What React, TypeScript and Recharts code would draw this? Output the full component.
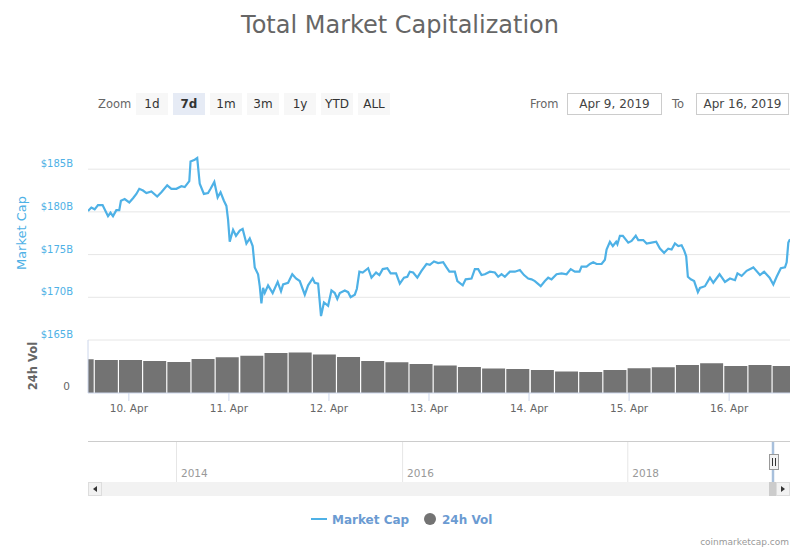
import React from 'react';
import { LineChart, Line, XAxis, YAxis, ReferenceLine, BarChart, Bar } from 'recharts';

const FONT = '"DejaVu Sans", Verdana, sans-serif';
const CAP_COLOR = '#4eb1e6';
const VOL_COLOR = '#737373';
const LEGEND_COLOR = '#6b9bd2';

// hours since Apr 9, 2019 00:00
const capHours = [14.2,15.0,15.8,16.6,17.7,18.6,19.0,19.6,20.2,21.0,21.7,22.1,23.0,24.1,25.0,25.8,26.5,27.4,28.2,29.4,30.8,31.8,33.2,34.2,35.4,36.6,37.4,38.5,38.8,39.8,40.4,41.0,42.0,43.0,43.6,44.5,45.3,46.0,46.8,47.4,47.8,48.2,49.0,49.7,50.6,51.3,52.2,53.0,53.7,54.2,55.0,55.4,55.8,56.2,56.6,57.4,58.5,59.7,60.5,61.0,62.2,63.2,64.1,65.0,66.2,67.0,68.1,68.6,69.4,70.1,70.8,71.8,72.6,73.4,74.0,74.6,75.8,76.6,77.2,78.2,78.7,79.3,80.1,81.4,82.2,83.3,84.1,84.9,86.0,86.8,88.1,89.0,90.0,90.8,91.4,92.2,93.2,94.2,95.4,96.2,97.2,98.2,99.4,100.2,100.9,102.2,102.8,104.1,104.8,106.2,107.0,107.8,108.6,109.4,110.6,111.8,112.6,113.4,114.2,115.4,116.6,117.8,118.8,119.8,120.6,121.4,122.8,123.8,124.6,125.4,126.6,127.8,129.0,130.0,131.0,132.1,132.6,133.8,134.6,135.4,136.2,137.4,138.2,138.6,139.4,140.1,140.9,141.2,141.8,142.5,143.8,144.6,145.6,146.2,147.4,148.2,149.4,150.5,151.4,152.4,153.4,154.2,155.0,155.8,156.6,157.2,157.7,158.1,158.8,159.6,160.5,161.0,162.2,163.4,164.2,165.7,167.0,168.2,169.4,170.0,171.0,172.2,173.8,175.4,176.4,177.7,178.6,179.4,180.4,181.4,181.8,182.2,182.6];

// market cap, $B
const capValues = [180.1,180.5,180.3,180.8,180.8,179.9,179.5,179.9,179.5,180.2,180.2,181.3,181.5,181.1,181.6,182.1,182.7,182.5,182.2,182.4,181.8,182.3,183.1,182.7,182.7,183.0,182.9,183.6,185.9,186.1,186.3,183.3,182.1,182.2,182.7,183.5,181.7,182.3,181.3,180.7,179.1,176.5,177.9,177.2,177.8,178.0,176.3,176.9,176.0,173.5,172.7,171.3,169.3,171.1,170.5,171.4,170.5,171.8,170.7,171.5,171.7,172.7,172.2,171.9,170.3,171.4,172.2,171.7,171.6,167.8,169.4,169.0,170.8,170.5,169.8,170.5,170.8,170.6,170.0,170.3,171.0,173.0,172.9,173.4,172.3,172.9,172.6,173.3,173.4,172.8,172.8,171.6,172.3,172.4,173.0,172.9,172.3,173.1,173.9,173.8,174.2,174.0,174.1,173.5,173.0,173.0,171.9,171.4,172.1,172.2,173.3,173.3,172.6,172.7,173.0,172.9,172.4,172.7,172.4,173.0,173.0,173.2,172.6,172.2,172.1,171.9,171.3,171.9,172.3,172.1,172.7,172.8,172.7,173.3,173.0,173.0,173.6,173.6,173.9,174.1,173.9,173.9,174.4,175.6,176.5,176.0,176.5,176.2,177.2,177.2,176.4,176.6,177.2,176.7,176.7,176.3,176.4,176.5,175.7,175.2,175.7,175.6,176.3,176.0,176.1,175.5,174.8,172.4,172.1,171.9,170.6,171.1,171.3,172.3,171.7,172.7,171.8,172.2,172.0,172.8,172.5,173.1,173.5,172.6,173.0,172.3,171.5,172.4,173.4,173.5,174.1,176.4,176.8];

// 24h volume, grouped bars
const volHours = [12.7,18.5,24.3,30.1,35.9,41.7,47.5,53.4,59.2,65.0,70.8,76.6,82.4,88.2,94.0,99.8,105.6,111.4,117.2,123.1,128.9,134.7,140.5,146.3,152.1,157.9,163.7,169.5,175.3,181.1];
const volValues = [44.5,43.6,43.6,42.3,40.9,44.9,47.2,49.3,52.8,53.5,50.9,47.5,42.3,40.5,38.3,36.3,34.3,32.4,31.7,30.4,28.4,27.7,30.4,32.6,33.9,37.0,39.2,35.7,37.0,35.7];

const dayTicks = [24, 48, 72, 96, 120, 144, 168];
const dayLabels = ['10. Apr', '11. Apr', '12. Apr', '13. Apr', '14. Apr', '15. Apr', '16. Apr'];
const capTicks = [165, 170, 175, 180, 185];
const capDomain = [165, 189];
const volDomain = [0, 70];
const volTicks = [0];
const timeDomain = [14.2, 182.6];

const zoomButtons = ['1d', '7d', '1m', '3m', '1y', 'YTD', 'ALL'];
const selectedButton = '7d';
const fromDate = 'Apr 9, 2019';
const toDate = 'Apr 16, 2019';
const navigatorYears = ['2014', '2016', '2018'];
const navigatorYearX = [176.5, 402.6, 627.8];

const capData = capHours.map((t, i) => ({ t, cap: capValues[i] }));
const volData = volHours.map((t, i) => ({ t, vol: volValues[i] }));

const CapTick = (props: any) => {
  const { y, payload } = props;
  return (
    <text x={73} y={y - 2} textAnchor="end" fill={CAP_COLOR} fontSize={10} fontFamily={FONT}>
      {`$${payload.value}B`}
    </text>
  );
};

const VolTick = (props: any) => {
  const { y, payload } = props;
  return (
    <text x={70} y={y - 3} textAnchor="end" fill="#666" fontSize={10.5} fontFamily={FONT}>
      {payload.value}
    </text>
  );
};

const Overlay = () => (
  <svg width={800} height={550} style={{ position: 'absolute', left: 0, top: 0 }} fontFamily={FONT}>
    <text x={400} y={33} textAnchor="middle" fontSize={24} fill="#666">Total Market Capitalization</text>

    <text x={98} y={107.5} fontSize={11.5} fill="#666">Zoom</text>
    {zoomButtons.map((b, i) => {
      const x = 136 + 37 * i;
      const sel = b === selectedButton;
      return (
        <g key={b}>
          <rect x={x} y={93} width={32} height={22} fill={sel ? '#e6ebf5' : '#f7f7f7'} />
          <text x={x + 16} y={107.5} textAnchor="middle" fontSize={12} fill="#333" fontWeight={sel ? 'bold' : 'normal'}>{b}</text>
        </g>
      );
    })}

    <text x={530} y={107.5} fontSize={11.5} fill="#666">From</text>
    <rect x={567.5} y={93.5} width={94} height={21} fill="#fff" stroke="#ccc" />
    <text x={614.5} y={108} textAnchor="middle" fontSize={12} fill="#444">{fromDate}</text>
    <text x={672} y={107.5} fontSize={11.5} fill="#666">To</text>
    <rect x={696.5} y={93.5} width={92} height={21} fill="#fff" stroke="#ccc" />
    <text x={742.5} y={108} textAnchor="middle" fontSize={12} fill="#444">{toDate}</text>

    <text transform="translate(26,233) rotate(-90)" textAnchor="middle" fontSize={13} fill={CAP_COLOR}>Market Cap</text>
    <text transform="translate(37,366) rotate(-90)" textAnchor="middle" fontSize={11.5} fontWeight="bold" fill="#666">24h Vol</text>

    {/* navigator */}
    <line x1={88} x2={790} y1={441.5} y2={441.5} stroke="#ccc" />
    {navigatorYears.map((yr, i) => (
      <g key={yr}>
        <line x1={navigatorYearX[i]} x2={navigatorYearX[i]} y1={442} y2={482} stroke="#e6e6e6" />
        <text x={navigatorYearX[i] + 4.5} y={477} fontSize={10.5} fill="#999">{yr}</text>
      </g>
    ))}
    <line x1={773} x2={773} y1={442} y2={482} stroke="#a8c0dc" strokeWidth={2.5} />
    <rect x={88} y={482} width={702} height={14} fill="#f2f2f2" />
    <rect x={88.5} y={482.5} width={13} height={13} fill="#f2f2f2" stroke="#ddd" />
    <path d="M93,489 L97,486 L97,492 Z" fill="#333" />
    <rect x={769} y={482} width={7} height={14} fill="#ccc" />
    <rect x={776.5} y={482.5} width={13} height={13} fill="#f2f2f2" stroke="#ddd" />
    <path d="M785,489 L781,486 L781,492 Z" fill="#333" />
    <rect x={769.5} y={454.5} width={9} height={15} fill="#f2f2f2" stroke="#999" />
    <line x1={772.5} x2={772.5} y1={458} y2={466} stroke="#333" />
    <line x1={775.5} x2={775.5} y1={458} y2={466} stroke="#333" />

    {/* legend */}
    <line x1={311} x2={327} y1={519} y2={519} stroke={CAP_COLOR} strokeWidth={2} />
    <text x={332} y={523.5} fontSize={12} fontWeight="bold" fill={LEGEND_COLOR}>Market Cap</text>
    <circle cx={430} cy={519} r={6} fill={VOL_COLOR} />
    <text x={442} y={523.5} fontSize={12} fontWeight="bold" fill={LEGEND_COLOR}>24h Vol</text>

    <text x={789} y={544.5} textAnchor="end" fontSize={9} fill="#999">coinmarketcap.com</text>
  </svg>
);

export default function App() {
  return (
    <div style={{ position: 'absolute', left: 0, top: 0, width: 800, height: 550, background: '#fff', fontFamily: FONT }}>
      <Overlay />
      <div style={{ position: 'absolute', left: 0, top: 0 }}>
        <LineChart width={800} height={345} data={capData} margin={{ top: 135, right: 10, bottom: 5, left: 0 }}>
          <XAxis type="number" dataKey="t" domain={timeDomain} hide allowDataOverflow />
          <YAxis
            type="number"
            domain={capDomain}
            ticks={capTicks}
            interval={0}
            width={88}
            axisLine={false}
            tickLine={false}
            tick={<CapTick />}
            allowDataOverflow
          />
          {capTicks.map((v) => (
            <ReferenceLine key={v} y={v} stroke="#e6e6e6" strokeWidth={1} />
          ))}
          <Line type="linear" dataKey="cap" stroke={CAP_COLOR} strokeWidth={2.2} dot={false} isAnimationActive={false} />
        </LineChart>
      </div>
      <div style={{ position: 'absolute', left: 0, top: 335 }}>
        <BarChart width={800} height={88} data={volData} margin={{ top: 5, right: 10, bottom: 0, left: 0 }}>
          <XAxis
            type="number"
            dataKey="t"
            domain={timeDomain}
            allowDataOverflow
            ticks={dayTicks}
            interval={0}
            tickFormatter={(v: number) => dayLabels[dayTicks.indexOf(v)]}
            height={30}
            tickSize={8}
            tickMargin={4}
            axisLine={{ stroke: '#ccd6eb' }}
            tickLine={{ stroke: '#ccd6eb' }}
            tick={{ fill: '#666', fontSize: 10.5, fontFamily: FONT }}
          />
          <YAxis
            type="number"
            domain={volDomain}
            ticks={volTicks}
            interval={0}
            width={88}
            axisLine={{ stroke: '#ccd6eb' }}
            tickLine={false}
            tick={<VolTick />}
          />
          <Bar dataKey="vol" fill={VOL_COLOR} barSize={23} isAnimationActive={false} />
        </BarChart>
      </div>
    </div>
  );
}
